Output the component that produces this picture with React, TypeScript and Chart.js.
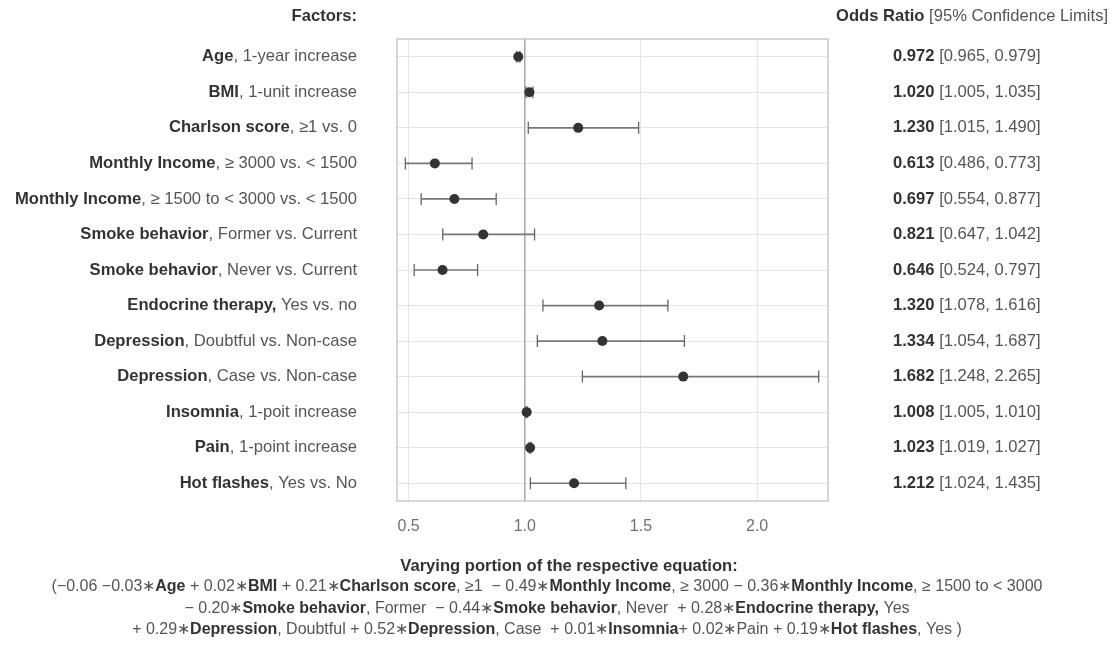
import React, { useEffect, useRef } from "react";
import { Chart, registerables } from "chart.js";

Chart.register(...registerables);

const factorNames = ["Age", "BMI", "Charlson score", "Monthly Income", "Monthly Income", "Smoke behavior", "Smoke behavior", "Endocrine therapy,", "Depression", "Depression", "Insomnia", "Pain", "Hot flashes"];
const factorDetails = [", 1-year increase", ", 1-unit increase", ", ≥1 vs. 0", ", ≥ 3000 vs. < 1500", ", ≥ 1500 to < 3000 vs. < 1500", ", Former vs. Current", ", Never vs. Current", " Yes vs. no", ", Doubtful vs. Non-case", ", Case vs. Non-case", ", 1-poit increase", ", 1-point increase", ", Yes vs. No"];
const oddsRatio = [0.972, 1.02, 1.23, 0.613, 0.697, 0.821, 0.646, 1.32, 1.334, 1.682, 1.008, 1.023, 1.212];
const lowerCI = [0.965, 1.005, 1.015, 0.486, 0.554, 0.647, 0.524, 1.078, 1.054, 1.248, 1.005, 1.019, 1.024];
const upperCI = [0.979, 1.035, 1.49, 0.773, 0.877, 1.042, 0.797, 1.616, 1.687, 2.265, 1.01, 1.027, 1.435];
const xTicks = [0.5, 1.0, 1.5, 2.0];
const xMin = 0.45;
const xMax = 2.305;
const referenceValue = 1.0;

type Seg = [string, boolean];
const equationTitle = "Varying portion of the respective equation:";
const equationLines: Seg[][] = [
  [["(−0.06 −0.03∗", false], ["Age", true], [" + 0.02∗", false], ["BMI", true], [" + 0.21∗", false], ["Charlson score", true], [", ≥1  − 0.49∗", false], ["Monthly Income", true], [", ≥ 3000 − 0.36∗", false], ["Monthly Income", true], [", ≥ 1500 to < 3000", false]],
  [["− 0.20∗", false], ["Smoke behavior", true], [", Former  − 0.44∗", false], ["Smoke behavior", true], [", Never  + 0.28∗", false], ["Endocrine therapy,", true], [" Yes", false]],
  [["+ 0.29∗", false], ["Depression", true], [", Doubtful + 0.52∗", false], ["Depression", true], [", Case  + 0.01∗", false], ["Insomnia", true], ["+ 0.02∗Pain + 0.19∗", false], ["Hot flashes", true], [", Yes )", false]],
];

const rowLabels = factorNames.map((n, i) => n + factorDetails[i]);
const FONT = '"Liberation Sans", Arial, sans-serif';
const BOLD_COLOR = "#333333";
const REG_COLOR = "#555555";
const LABEL_SIZE = 16.6;
const EQ_SIZE = 16;

function segWidth(ctx: CanvasRenderingContext2D, segs: Seg[], size: number) {
  let w = 0;
  for (const [t, b] of segs) {
    ctx.font = `${b ? "bold " : ""}${size}px ${FONT}`;
    w += ctx.measureText(t).width;
  }
  return w;
}

function drawSegs(ctx: CanvasRenderingContext2D, segs: Seg[], x: number, y: number, align: "left" | "right" | "center", size = LABEL_SIZE) {
  const w = segWidth(ctx, segs, size);
  let cx = align === "left" ? x : align === "right" ? x - w : x - w / 2;
  ctx.textAlign = "left";
  ctx.textBaseline = "middle";
  for (const [t, b] of segs) {
    ctx.font = `${b ? "bold " : ""}${size}px ${FONT}`;
    ctx.fillStyle = b ? BOLD_COLOR : REG_COLOR;
    ctx.fillText(t, cx, y);
    cx += ctx.measureText(t).width;
  }
}

const forestPlugin = {
  id: "forest",
  beforeDatasetsDraw(chart: any) {
    const { ctx, chartArea, scales } = chart;
    const x = scales.x;
    const y = scales.y;
    ctx.save();
    const rx = x.getPixelForValue(referenceValue);
    ctx.strokeStyle = "#a8a8a8";
    ctx.lineWidth = 1.5;
    ctx.beginPath();
    ctx.moveTo(rx, chartArea.top);
    ctx.lineTo(rx, chartArea.bottom);
    ctx.stroke();
    ctx.strokeStyle = "#bdbdbd";
    ctx.lineWidth = 1.2;
    ctx.strokeRect(chartArea.left, chartArea.top, chartArea.right - chartArea.left, chartArea.bottom - chartArea.top);
    for (let i = 0; i < oddsRatio.length; i++) {
      const py = y.getPixelForValue(i);
      const lx = x.getPixelForValue(lowerCI[i]);
      const hx = x.getPixelForValue(upperCI[i]);
      ctx.strokeStyle = "#777777";
      ctx.lineWidth = 1.7;
      ctx.beginPath();
      ctx.moveTo(lx, py);
      ctx.lineTo(hx, py);
      ctx.stroke();
      ctx.strokeStyle = "#666666";
      ctx.lineWidth = 1.3;
      ctx.beginPath();
      ctx.moveTo(lx, py - 6);
      ctx.lineTo(lx, py + 6);
      ctx.moveTo(hx, py - 6);
      ctx.lineTo(hx, py + 6);
      ctx.stroke();
    }
    ctx.restore();
  },
  afterDraw(chart: any) {
    const { ctx, scales } = chart;
    const y = scales.y;
    ctx.save();
    drawSegs(ctx, [["Factors:", true]], 357, 16, "right");
    drawSegs(ctx, [["Odds Ratio", true], [" [95% Confidence Limits]", false]], 836, 16, "left");
    for (let i = 0; i < oddsRatio.length; i++) {
      const py = y.getPixelForValue(i);
      drawSegs(ctx, [[factorNames[i], true], [factorDetails[i], false]], 357, py, "right");
      drawSegs(ctx, [[oddsRatio[i].toFixed(3), true], [` [${lowerCI[i].toFixed(3)}, ${upperCI[i].toFixed(3)}]`, false]], 893, py, "left");
    }
    drawSegs(ctx, [[equationTitle, true]], 569, 566, "center");
    equationLines.forEach((line, k) => {
      drawSegs(ctx, line, 547, 587 + k * 21.5, "center", EQ_SIZE);
    });
    ctx.restore();
  },
};

export default function App() {
  const ref = useRef<HTMLCanvasElement | null>(null);
  useEffect(() => {
    document.body.style.margin = "0";
    const canvas = ref.current;
    if (!canvas) return;
    const chart = new Chart(canvas, {
      type: "scatter",
      data: {
        labels: rowLabels,
        datasets: [
          {
            data: oddsRatio.map((v, i) => ({ x: v, y: rowLabels[i] })) as any,
            pointRadius: 5,
            pointHoverRadius: 5,
            pointBackgroundColor: "#333333",
            pointBorderColor: "#333333",
            pointBorderWidth: 0,
          },
        ],
      },
      options: {
        animation: false,
        responsive: true,
        maintainAspectRatio: false,
        plugins: { legend: { display: false }, tooltip: { enabled: false } },
        layout: { padding: { left: 397, right: 285, top: 39, bottom: 122 } },
        scales: {
          x: {
            type: "linear",
            min: xMin,
            max: xMax,
            afterBuildTicks: (s: any) => {
              s.ticks = xTicks.map((v) => ({ value: v }));
            },
            afterFit: (s: any) => {
              s.height = 30;
            },
            grid: { color: "#e4e4e4", lineWidth: 1, drawTicks: false },
            border: { display: false },
            ticks: {
              padding: 16,
              color: "#707070",
              font: { family: FONT, size: 16 },
              callback: (v: any) => Number(v).toFixed(1),
            },
          },
          y: {
            type: "category",
            labels: rowLabels,
            offset: true,
            afterFit: (s: any) => {
              s.width = 0;
            },
            grid: { color: "#e4e4e4", lineWidth: 1, drawTicks: false, offset: false },
            border: { display: false },
            ticks: { display: false },
          },
        },
      },
      plugins: [forestPlugin],
    });
    return () => chart.destroy();
  }, []);
  return (
    <div style={{ position: "fixed", left: 0, top: 0, width: 1113, height: 653, background: "#fff" }}>
      <canvas ref={ref} />
    </div>
  );
}
